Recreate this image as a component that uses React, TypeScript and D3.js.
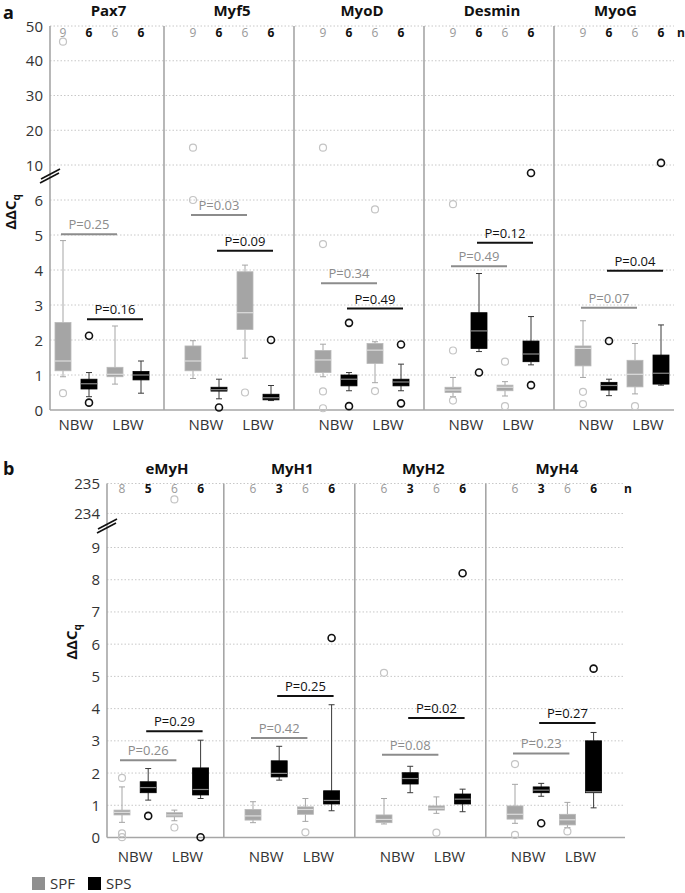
import React from "react";
import * as d3 from "d3";

// ---------- DATA ----------
const boxSeries = ["SPF", "SPS"];
const birthLabels = ["NBW", "LBW"];

// Panel a
const genesA = ["Pax7", "Myf5", "MyoD", "Desmin", "MyoG"];
const nA = [[9, 6, 6, 6], [9, 6, 6, 6], [9, 6, 6, 6], [9, 6, 6, 6], [9, 6, 6, 6]];
// each box: [whiskerLow, q1, median, q3, whiskerHigh]; order SPF-NBW, SPS-NBW, SPF-LBW, SPS-LBW
const statsA = [
  [[0.95, 1.12, 1.40, 2.50, 4.84], [0.38, 0.60, 0.75, 0.88, 1.07], [0.74, 0.95, 1.02, 1.22, 2.40], [0.48, 0.86, 1.00, 1.10, 1.40]],
  [[0.90, 1.12, 1.40, 1.83, 1.98], [0.32, 0.54, 0.58, 0.65, 0.88], [1.48, 2.30, 2.78, 3.95, 4.14], [0.27, 0.29, 0.35, 0.45, 0.70]],
  [[0.95, 1.07, 1.43, 1.70, 1.88], [0.55, 0.69, 0.88, 1.00, 1.07], [0.78, 1.33, 1.71, 1.90, 1.95], [0.55, 0.69, 0.80, 0.88, 1.31]],
  [[0.38, 0.50, 0.57, 0.65, 0.93], [1.67, 1.76, 2.26, 2.78, 3.90], [0.40, 0.55, 0.65, 0.71, 0.81], [1.29, 1.38, 1.60, 1.97, 2.67]],
  [[0.93, 1.26, 1.76, 1.83, 2.55], [0.41, 0.57, 0.70, 0.79, 0.88], [0.46, 0.66, 1.02, 1.42, 1.90], [0.71, 0.74, 1.05, 1.57, 2.43]],
];
const outliersA = [
  [[0.48, 45.5], [2.12, 0.21], [], []],
  [[6.0, 15], [0.07], [0.5], [2.0]],
  [[4.74, 0.53, 0.05, 15], [2.49, 0.11], [0.54, 5.73], [1.87, 0.19]],
  [[1.70, 0.27, 5.88], [1.07], [1.38, 0.11], [0.71, 7.7]],
  [[0.52, 0.17], [1.97], [0.11], [10.6]],
];
const pSpfA = ["P=0.25", "P=0.03", "P=0.34", "P=0.49", "P=0.07"];
const pSpfYA = [5.02, 5.57, 3.62, 4.11, 2.92];
const pSpsA = ["P=0.16", "P=0.09", "P=0.49", "P=0.12", "P=0.04"];
const pSpsYA = [2.59, 4.55, 2.90, 4.78, 3.98];
const ticksLowA = [0, 1, 2, 3, 4, 5, 6];
const ticksHighA = [10, 20, 30, 40, 50];

// Panel b
const genesB = ["eMyH", "MyH1", "MyH2", "MyH4"];
const nB = [[8, 5, 6, 6], [6, 3, 6, 6], [6, 3, 6, 6], [6, 3, 6, 6]];
const statsB = [
  [[0.47, 0.70, 0.78, 0.85, 1.57], [1.16, 1.39, 1.55, 1.73, 2.14], [0.52, 0.64, 0.70, 0.77, 0.85], [1.21, 1.32, 1.49, 2.16, 3.02]],
  [[0.46, 0.54, 0.67, 0.87, 1.11], [1.78, 1.88, 1.99, 2.38, 2.83], [0.50, 0.72, 0.87, 0.95, 1.21], [0.83, 1.04, 1.15, 1.45, 4.12]],
  [[0.42, 0.46, 0.56, 0.70, 1.21], [1.39, 1.66, 1.83, 2.01, 2.21], [0.75, 0.85, 0.91, 0.98, 1.26], [0.80, 1.04, 1.19, 1.35, 1.50]],
  [[0.44, 0.57, 0.72, 0.98, 1.65], [1.28, 1.39, 1.47, 1.57, 1.68], [0.31, 0.39, 0.55, 0.72, 1.09], [0.92, 1.39, 1.42, 3.00, 3.26]],
];
const outliersB = [
  [[1.85, 0.13, 0.01], [0.67], [0.31, 234.47], [0.01]],
  [[], [], [0.16], [6.19]],
  [[5.11], [], [0.15], [8.2]],
  [[2.28, 0.08], [0.44], [0.19], [5.24]],
];
const pSpfB = ["P=0.26", "P=0.42", "P=0.08", "P=0.23"];
const pSpfYB = [2.40, 3.09, 2.57, 2.61];
const pSpsB = ["P=0.29", "P=0.25", "P=0.02", "P=0.27"];
const pSpsYB = [3.30, 4.39, 3.71, 3.55];
const ticksLowB = [0, 1, 2, 3, 4, 5, 6, 7, 8, 9];
const ticksHighB = [234, 235];

// ---------- STYLE ----------
const FONT = "'Open Sans', 'Liberation Sans', sans-serif";
const GRAY = "#a5a5a5";
const AXIS = "#a6a6a6";
const TEXT = "#333333";
const PGRAY = "#8c8c8c";

type Cfg = {
  letter: string;
  letterY: number;
  axisX: number;
  gridRight: number;
  slot0: number;
  slotW: number;
  lowDomain: [number, number];
  lowRange: [number, number];
  highDomain: [number, number];
  highRange: [number, number];
  breakAt: number;
  titleY: number;
  nY: number;
  nLabelX: number;
  catY: number;
  yLabelX: number;
  yLabelY: number;
  breakY: number;
};

const cfgA: Cfg = {
  letter: "a", letterY: 19, axisX: 50, gridRight: 674, slot0: 63, slotW: 26,
  lowDomain: [0, 6], lowRange: [410, 200], highDomain: [10, 50], highRange: [165, 26],
  breakAt: 6.5, titleY: 16, nY: 37, nLabelX: 681, catY: 430, yLabelX: 16, yLabelY: 212, breakY: 176,
};
const cfgB: Cfg = {
  letter: "b", letterY: 475, axisX: 107, gridRight: 625, slot0: 122, slotW: 26.2,
  lowDomain: [0, 9], lowRange: [837.5, 547.5], highDomain: [234, 235], highRange: [513.5, 483.5],
  breakAt: 100, titleY: 474, nY: 493, nLabelX: 628, catY: 862, yLabelX: 77, yLabelY: 642, breakY: 526,
};

function Panel(props: {
  cfg: Cfg; genes: string[]; ns: number[][]; stats: number[][][]; outliers: number[][][];
  pSpf: string[]; pSpfY: number[]; pSps: string[]; pSpsY: number[]; ticksLow: number[]; ticksHigh: number[];
}) {
  const { cfg, genes, ns, stats, outliers, pSpf, pSpfY, pSps, pSpsY, ticksLow, ticksHigh } = props;
  const x = d3.scaleLinear().domain([0, 1]).range([cfg.slot0, cfg.slot0 + cfg.slotW]);
  const yLow = d3.scaleLinear().domain(cfg.lowDomain).range(cfg.lowRange);
  const yHigh = d3.scaleLinear().domain(cfg.highDomain).range(cfg.highRange);
  const y = (v: number) => (v > cfg.breakAt ? yHigh(v) : yLow(v));
  const topY = yHigh(cfg.highDomain[1]);
  const baseY = yLow(0);
  const G = genes.length;
  const slot = (g: number, b: number) => g * 5 + b;
  const boxW = 16;

  return (
    <g>
      {[...ticksLow.filter((t) => t !== 0).map(yLow), ...ticksHigh.map(yHigh)].map((yy, i) => (
        <line key={"g" + i} x1={cfg.axisX} x2={cfg.gridRight} y1={yy} y2={yy} stroke="#c8c8c8" strokeWidth={1} strokeDasharray="1.5,2" />
      ))}
      {ticksLow.map((t) => (
        <text key={"tl" + t} x={cfg.axisX - 7} y={yLow(t) + 5.5} textAnchor="end" fontSize={15} fill={TEXT} fontFamily={FONT}>{t}</text>
      ))}
      {ticksHigh.map((t) => (
        <text key={"th" + t} x={cfg.axisX - 7} y={yHigh(t) + 5.5} textAnchor="end" fontSize={15} fill={TEXT} fontFamily={FONT}>{t}</text>
      ))}
      {genes.slice(0, -1).map((_, g) => (
        <line key={"s" + g} x1={x(slot(g, 4)) - 3} x2={x(slot(g, 4)) - 3} y1={topY} y2={baseY} stroke={AXIS} strokeWidth={1.6} />
      ))}
      <line x1={cfg.axisX} x2={cfg.axisX} y1={topY} y2={baseY} stroke={AXIS} strokeWidth={1.6} />
      <line x1={cfg.axisX} x2={cfg.gridRight} y1={baseY} y2={baseY} stroke={AXIS} strokeWidth={1.6} />
      <line x1={cfg.axisX - 10} x2={cfg.axisX + 9} y1={cfg.breakY + 7} y2={cfg.breakY - 3} stroke="#111" strokeWidth={1.6} />
      <line x1={cfg.axisX - 9} x2={cfg.axisX + 10} y1={cfg.breakY + 3} y2={cfg.breakY - 7} stroke="#111" strokeWidth={1.6} />
      <text x={3} y={cfg.letterY} fontSize={18} fontWeight="bold" fill="#111" fontFamily={FONT}>{cfg.letter}</text>
      <text transform={`translate(${cfg.yLabelX},${cfg.yLabelY}) rotate(-90)`} textAnchor="middle" fontSize={15} fontWeight="bold" fill="#111" fontFamily={FONT}>
        ΔΔC<tspan fontSize={10} dy={4}>q</tspan>
      </text>
      <text x={cfg.nLabelX} y={cfg.nY} textAnchor="middle" fontSize={12} fontWeight="bold" fill="#111" fontFamily={FONT}>n</text>
      {genes.map((gene, g) => {
        const left = g === 0 ? cfg.axisX : x(slot(g - 1, 4));
        const right = g === G - 1 ? cfg.gridRight : x(slot(g, 4));
        return (
          <g key={gene}>
            <text x={(left + right) / 2} y={cfg.titleY} textAnchor="middle" fontSize={15} fontWeight="bold" fill="#111" fontFamily={FONT}>{gene}</text>
            {birthLabels.map((lab, k) => (
              <text key={lab} x={x(slot(g, k * 2 + 0.5))} y={cfg.catY} textAnchor="middle" fontSize={15} fill={TEXT} fontFamily={FONT}>{lab}</text>
            ))}
            {ns[g].map((n, b) => (
              <text key={"n" + b} x={x(slot(g, b))} y={cfg.nY} textAnchor="middle" fontSize={12}
                fontWeight={b % 2 === 1 ? "bold" : "normal"} fill={b % 2 === 1 ? "#111" : "#999"} fontFamily={FONT}>{n}</text>
            ))}
            {stats[g].map((s, b) => {
              const cx = x(slot(g, b));
              const sps = b % 2 === 1;
              const [lo, q1, med, q3, hi] = s;
              const wc = sps ? "#3a3a3a" : GRAY;
              return (
                <g key={"b" + b}>
                  <line x1={cx} x2={cx} y1={y(hi)} y2={y(q3)} stroke={wc} strokeWidth={1} />
                  <line x1={cx} x2={cx} y1={y(q1)} y2={y(lo)} stroke={wc} strokeWidth={1} />
                  <line x1={cx - 3} x2={cx + 3} y1={y(hi)} y2={y(hi)} stroke={wc} strokeWidth={1} />
                  <line x1={cx - 3} x2={cx + 3} y1={y(lo)} y2={y(lo)} stroke={wc} strokeWidth={1} />
                  <rect x={cx - boxW / 2} y={y(q3)} width={boxW} height={Math.max(1.5, y(q1) - y(q3))}
                    fill={sps ? "#000" : GRAY} stroke={sps ? "#000" : "#b8b8b8"} strokeWidth={0.8} />
                  <line x1={cx - boxW / 2} x2={cx + boxW / 2} y1={y(med)} y2={y(med)} stroke={sps ? "#8a8a8a" : "#dcdcdc"} strokeWidth={1.2} />
                  {outliers[g][b].map((o, i) => (
                    <circle key={i} cx={cx} cy={y(o)} r={3.5} fill="none" stroke={sps ? "#111" : "#c4c4c4"} strokeWidth={sps ? 1.6 : 1.2} />
                  ))}
                </g>
              );
            })}
            {[0, 1].map((k) => {
              const x1 = x(slot(g, k)) - 2;
              const x2 = x(slot(g, k + 2)) + 2;
              const yy = y(k === 0 ? pSpfY[g] : pSpsY[g]);
              const col = k === 0 ? PGRAY : "#111";
              return (
                <g key={"p" + k}>
                  <line x1={x1} x2={x2} y1={yy} y2={yy} stroke={col} strokeWidth={2} />
                  <text x={(x1 + x2) / 2} y={yy - 5} textAnchor="middle" fontSize={13} fill={col} fontFamily={FONT}>
                    {k === 0 ? pSpf[g] : pSps[g]}
                  </text>
                </g>
              );
            })}
          </g>
        );
      })}
    </g>
  );
}

export default function App() {
  return (
    <svg width={685} height={893} style={{ position: "absolute", left: 0, top: 0, background: "#fff" }}>
      <rect width={685} height={893} fill="#fff" />
      <Panel cfg={cfgA} genes={genesA} ns={nA} stats={statsA} outliers={outliersA}
        pSpf={pSpfA} pSpfY={pSpfYA} pSps={pSpsA} pSpsY={pSpsYA} ticksLow={ticksLowA} ticksHigh={ticksHighA} />
      <Panel cfg={cfgB} genes={genesB} ns={nB} stats={statsB} outliers={outliersB}
        pSpf={pSpfB} pSpfY={pSpfYB} pSps={pSpsB} pSpsY={pSpsYB} ticksLow={ticksLowB} ticksHigh={ticksHighB} />
      {boxSeries.map((s, i) => (
        <g key={s} transform={`translate(${32 + i * 56},877)`}>
          <rect width={13} height={13} fill={i === 0 ? "#8f8f8f" : "#000"} />
          <text x={18} y={12} fontSize={15} fill={TEXT} fontFamily={FONT}>{s}</text>
        </g>
      ))}
    </svg>
  );
}
